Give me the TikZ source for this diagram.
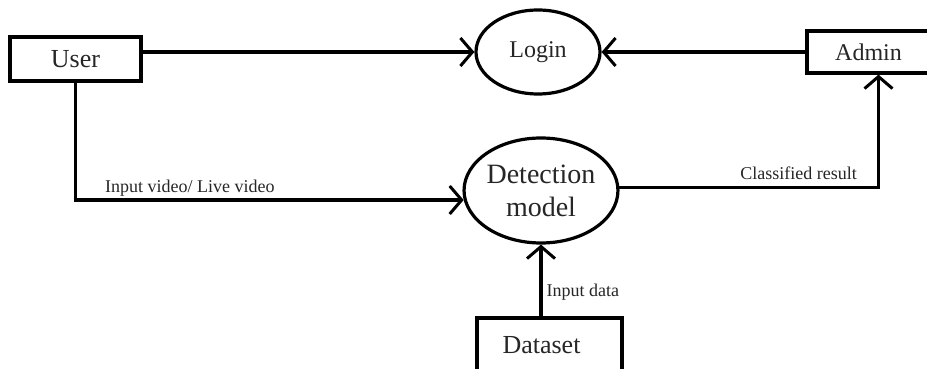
\documentclass[tikz,border=0pt]{standalone}
\usepackage{fontspec}
\setmainfont{Liberation Serif}
\usepackage{tikz}
\usetikzlibrary{arrows.meta, shapes, positioning, calc}
\tikzset{
    boxU/.style={draw, line width=3.2pt, rectangle, inner sep=0pt},
    ovalU/.style={draw, line width=3.2pt, ellipse, inner sep=0pt, align=center},
    flowA/.style={line width=3.2pt, -{Straight Barb[length=12pt, width=28pt, line width=3pt]}},
    lblA/.style={inner sep=0pt, text=black!85, font=\fontsize{18}{20}\selectfont}
}

\begin{document}
\begin{tikzpicture}[x=1pt, y=1pt]
    \useasboundingbox (0,0) rectangle (927,369);
    \tikzstyle{every node}=[text=black!85, font=\fontsize{24}{28}\selectfont];
    % boxes and ovals
    \node[boxU, minimum width=131pt, minimum height=44pt, font=\fontsize{26}{30}\selectfont] (user) at (75.5,310) {User};
    \node[ovalU, minimum width=124pt, minimum height=84pt] (login) at (538,317) {Login};
    \node[boxU, minimum width=123pt, minimum height=42pt] (admin) at (868.5,317) {Admin};
    \node[ovalU, minimum width=146pt, minimum height=105pt, font=\fontsize{28}{33}\selectfont] (detect) at (541,178.5) {Detection\\model};
    \node[boxU, minimum width=145pt, minimum height=54pt, font=\fontsize{26}{30}\selectfont] (data) at (549.5,24) {\hspace*{-16pt}Dataset};
    % connectors
    \draw[flowA] (user.east |- login.west) -- (login.west);
    \draw[flowA] (admin.west) -- (login.east);
    \draw[flowA] (user.south) |- (detect.187)
        node[lblA, pos=0.5, anchor=base west, xshift=28pt, yshift=7pt] {Input video/ Live video};
    \draw[flowA] (detect.2) -| ([xshift=10pt]admin.south)
        node[lblA, pos=0.5, anchor=base east, xshift=-20pt, yshift=8pt] {Classified result};
    \draw[flowA] (data.north -| detect.south) -- (detect.south)
        node[lblA, pos=0.28, anchor=base west, xshift=4pt] {Input data};
\end{tikzpicture}
\end{document}
